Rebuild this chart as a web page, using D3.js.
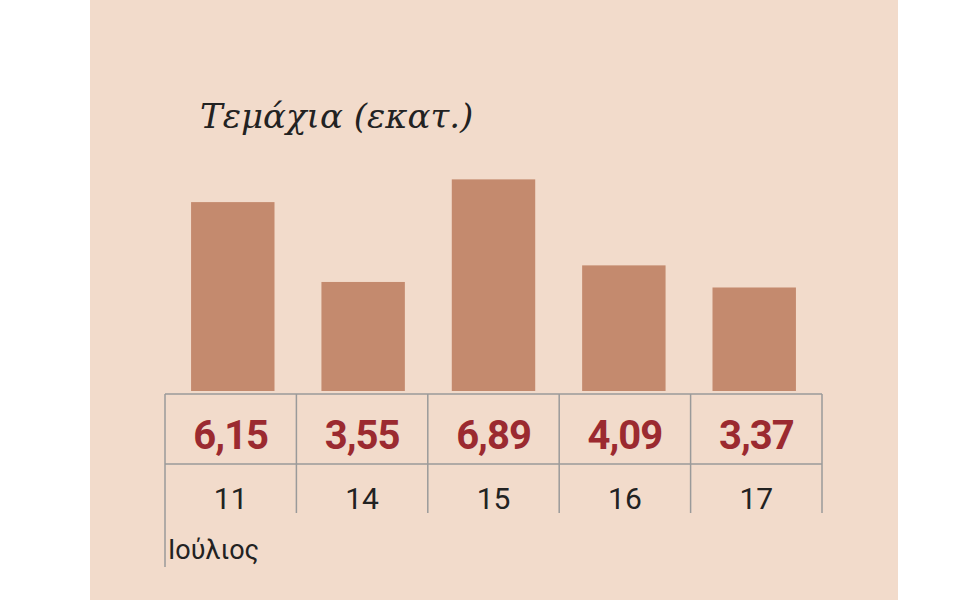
<!DOCTYPE html>
<html><head><meta charset="utf-8">
<script src="https://cdn.jsdelivr.net/npm/d3@7"></script>
<style>body{margin:0;background:#fff}</style></head>
<body><svg width="960" height="600"></svg>
<script>
var days = ["11", "14", "15", "16", "17"];
var values = [6.15, 3.55, 6.89, 4.09, 3.37];
var labels = ["6,15", "3,55", "6,89", "4,09", "3,37"];

var svg = d3.select("svg");
svg.append("rect").attr("x", 90).attr("y", 0).attr("width", 808).attr("height", 600).attr("fill", "#f2dbcb");

var x = d3.scaleBand().domain(days).range([165, 822]).paddingInner(0.36).paddingOuter(0.2);
var xc = d3.scaleBand().domain(days).range([165, 822]);
var y = d3.scaleLinear().domain([0, 7]).range([391, 176]);

svg.selectAll(".bar").data(values).enter().append("rect")
  .attr("x", function(d, i){ return x(days[i]); })
  .attr("width", x.bandwidth())
  .attr("y", function(d){ return y(d); })
  .attr("height", function(d){ return y(0) - y(d); })
  .attr("fill", "#c48a6e");

var grid = "#9a9a9a";
svg.append("line").attr("x1", 165).attr("x2", 822).attr("y1", 394).attr("y2", 394).attr("stroke", grid).attr("stroke-width", 1.5);
svg.append("line").attr("x1", 165).attr("x2", 822).attr("y1", 464).attr("y2", 464).attr("stroke", grid).attr("stroke-width", 1.5);
var edges = days.map(function(d){ return xc(d); }).concat([822]);
svg.selectAll(".vl").data(edges).enter().append("line")
  .attr("x1", function(d){ return d; }).attr("x2", function(d){ return d; })
  .attr("y1", 394).attr("y2", function(d, i){ return i === 0 ? 567 : 513; })
  .attr("stroke", grid).attr("stroke-width", 1.5);

svg.selectAll(".val").data(labels).enter().append("text")
  .attr("x", function(d, i){ return xc(days[i]) + xc.bandwidth() / 2; })
  .attr("y", 449).attr("text-anchor", "middle")
  .attr("font-family", "Roboto, sans-serif").attr("font-weight", "bold").attr("font-size", 40)
  .attr("fill", "#9b2a30").attr("letter-spacing", -1).text(function(d){ return d; });

svg.selectAll(".day").data(days).enter().append("text")
  .attr("x", function(d){ return xc(d) + xc.bandwidth() / 2; })
  .attr("y", 509).attr("text-anchor", "middle")
  .attr("font-family", "Roboto, sans-serif").attr("font-size", 30)
  .attr("fill", "#222").text(function(d){ return d; });

svg.append("text").attr("x", 168).attr("y", 559)
  .attr("font-family", "Roboto, sans-serif").attr("font-size", 27).attr("fill", "#222").text("Ιούλιος");

svg.append("text").attr("x", 200).attr("y", 128)
  .attr("font-family", "'DejaVu Serif', serif").attr("font-style", "italic").attr("font-size", 34)
  .attr("fill", "#222").text("Τεμάχια (εκατ.)");
</script></body></html>
